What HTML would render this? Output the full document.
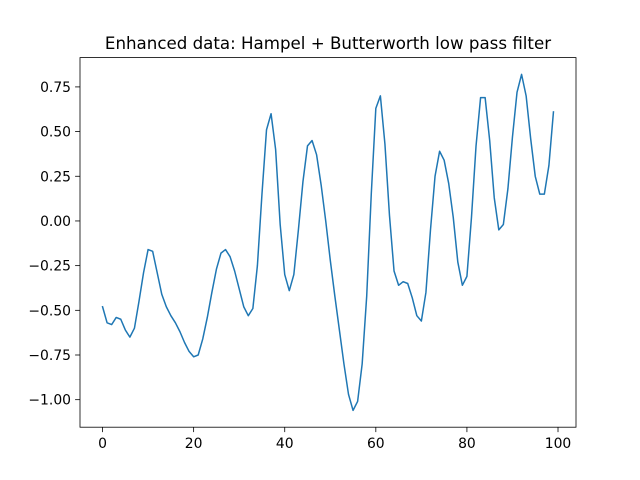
<!DOCTYPE html>
<html><head><meta charset="utf-8"><style>
body{margin:0;background:#fff;}
svg{display:block;font-family:"DejaVu Sans","Liberation Sans",sans-serif;}
</style></head><body>
<svg id="chart" width="640" height="480"></svg>
<script>
const values=[-0.48,-0.57,-0.58,-0.54,-0.55,-0.61,-0.65,-0.60,-0.45,-0.29,-0.16,-0.17,-0.29,-0.41,-0.48,-0.53,-0.57,-0.62,-0.68,-0.73,-0.76,-0.75,-0.66,-0.54,-0.40,-0.27,-0.18,-0.16,-0.20,-0.28,-0.38,-0.48,-0.53,-0.49,-0.25,0.15,0.51,0.60,0.40,-0.02,-0.30,-0.39,-0.30,-0.05,0.22,0.42,0.45,0.37,0.20,0.0,-0.22,-0.42,-0.61,-0.80,-0.97,-1.06,-1.01,-0.80,-0.42,0.15,0.63,0.70,0.43,0.03,-0.28,-0.36,-0.34,-0.35,-0.43,-0.53,-0.56,-0.40,-0.05,0.25,0.39,0.34,0.21,0.02,-0.23,-0.36,-0.31,0.02,0.42,0.69,0.69,0.45,0.13,-0.05,-0.02,0.18,0.47,0.72,0.82,0.70,0.46,0.25,0.15,0.15,0.31,0.61];
const xTicks=[0,20,40,60,80,100];
const yTicks=[-1.00,-0.75,-0.50,-0.25,0.00,0.25,0.50,0.75];
const titleText="Enhanced data: Hampel + Butterworth low pass filter";

const svg=document.getElementById('chart');
const NS='http://www.w3.org/2000/svg';
const L=80,R=576,T=57.6,B=427.2;
const n=values.length;
const xmin=-(n-1)*0.05,xmax=(n-1)*1.05;
const vmin=Math.min(...values),vmax=Math.max(...values);
const pad=(vmax-vmin)*0.05;
const ymin=vmin-pad,ymax=vmax+pad;
const sx=v=>L+(v-xmin)/(xmax-xmin)*(R-L);
const sy=v=>B-(v-ymin)/(ymax-ymin)*(B-T);
function mk(tag,attrs,parent){const e=document.createElementNS(NS,tag);for(const k in attrs)e.setAttribute(k,attrs[k]);(parent||svg).appendChild(e);return e;}

const title=mk('text',{x:(L+R)/2,y:49,'text-anchor':'middle','font-size':'16.67',fill:'#000'});


title.textContent=titleText;

const pts=values.map((v,i)=>sx(i).toFixed(2)+','+sy(v).toFixed(2)).join(' ');
const line=mk('polyline',{points:pts,fill:'none',stroke:'#1f77b4','stroke-width':'1.5','stroke-linejoin':'round','stroke-linecap':'square'});



const frame=mk('rect',{x:L,y:T,width:R-L,height:B-T,fill:'none',stroke:'#000','stroke-width':'0.8'});



xTicks.forEach(t=>{
  const x=sx(t);
  const tk=mk('line',{x1:x,x2:x,y1:B,y2:B+4.9,stroke:'#000','stroke-width':'0.8'});
  
  
  const lb=mk('text',{x:x,y:B+21,'text-anchor':'middle','font-size':'13.9',fill:'#000'});
  
  
  lb.textContent=String(t);
});
yTicks.forEach(t=>{
  const y=sy(t);
  const tk=mk('line',{x1:L-4.9,x2:L,y1:y,y2:y,stroke:'#000','stroke-width':'0.8'});
  
  
  const lb=mk('text',{x:L-9,y:y+5,'text-anchor':'end','font-size':'13.9',fill:'#000'});
  
  
  lb.textContent=(t<0?'\u2212':'')+Math.abs(t).toFixed(2);
});
</script>
</body></html>
